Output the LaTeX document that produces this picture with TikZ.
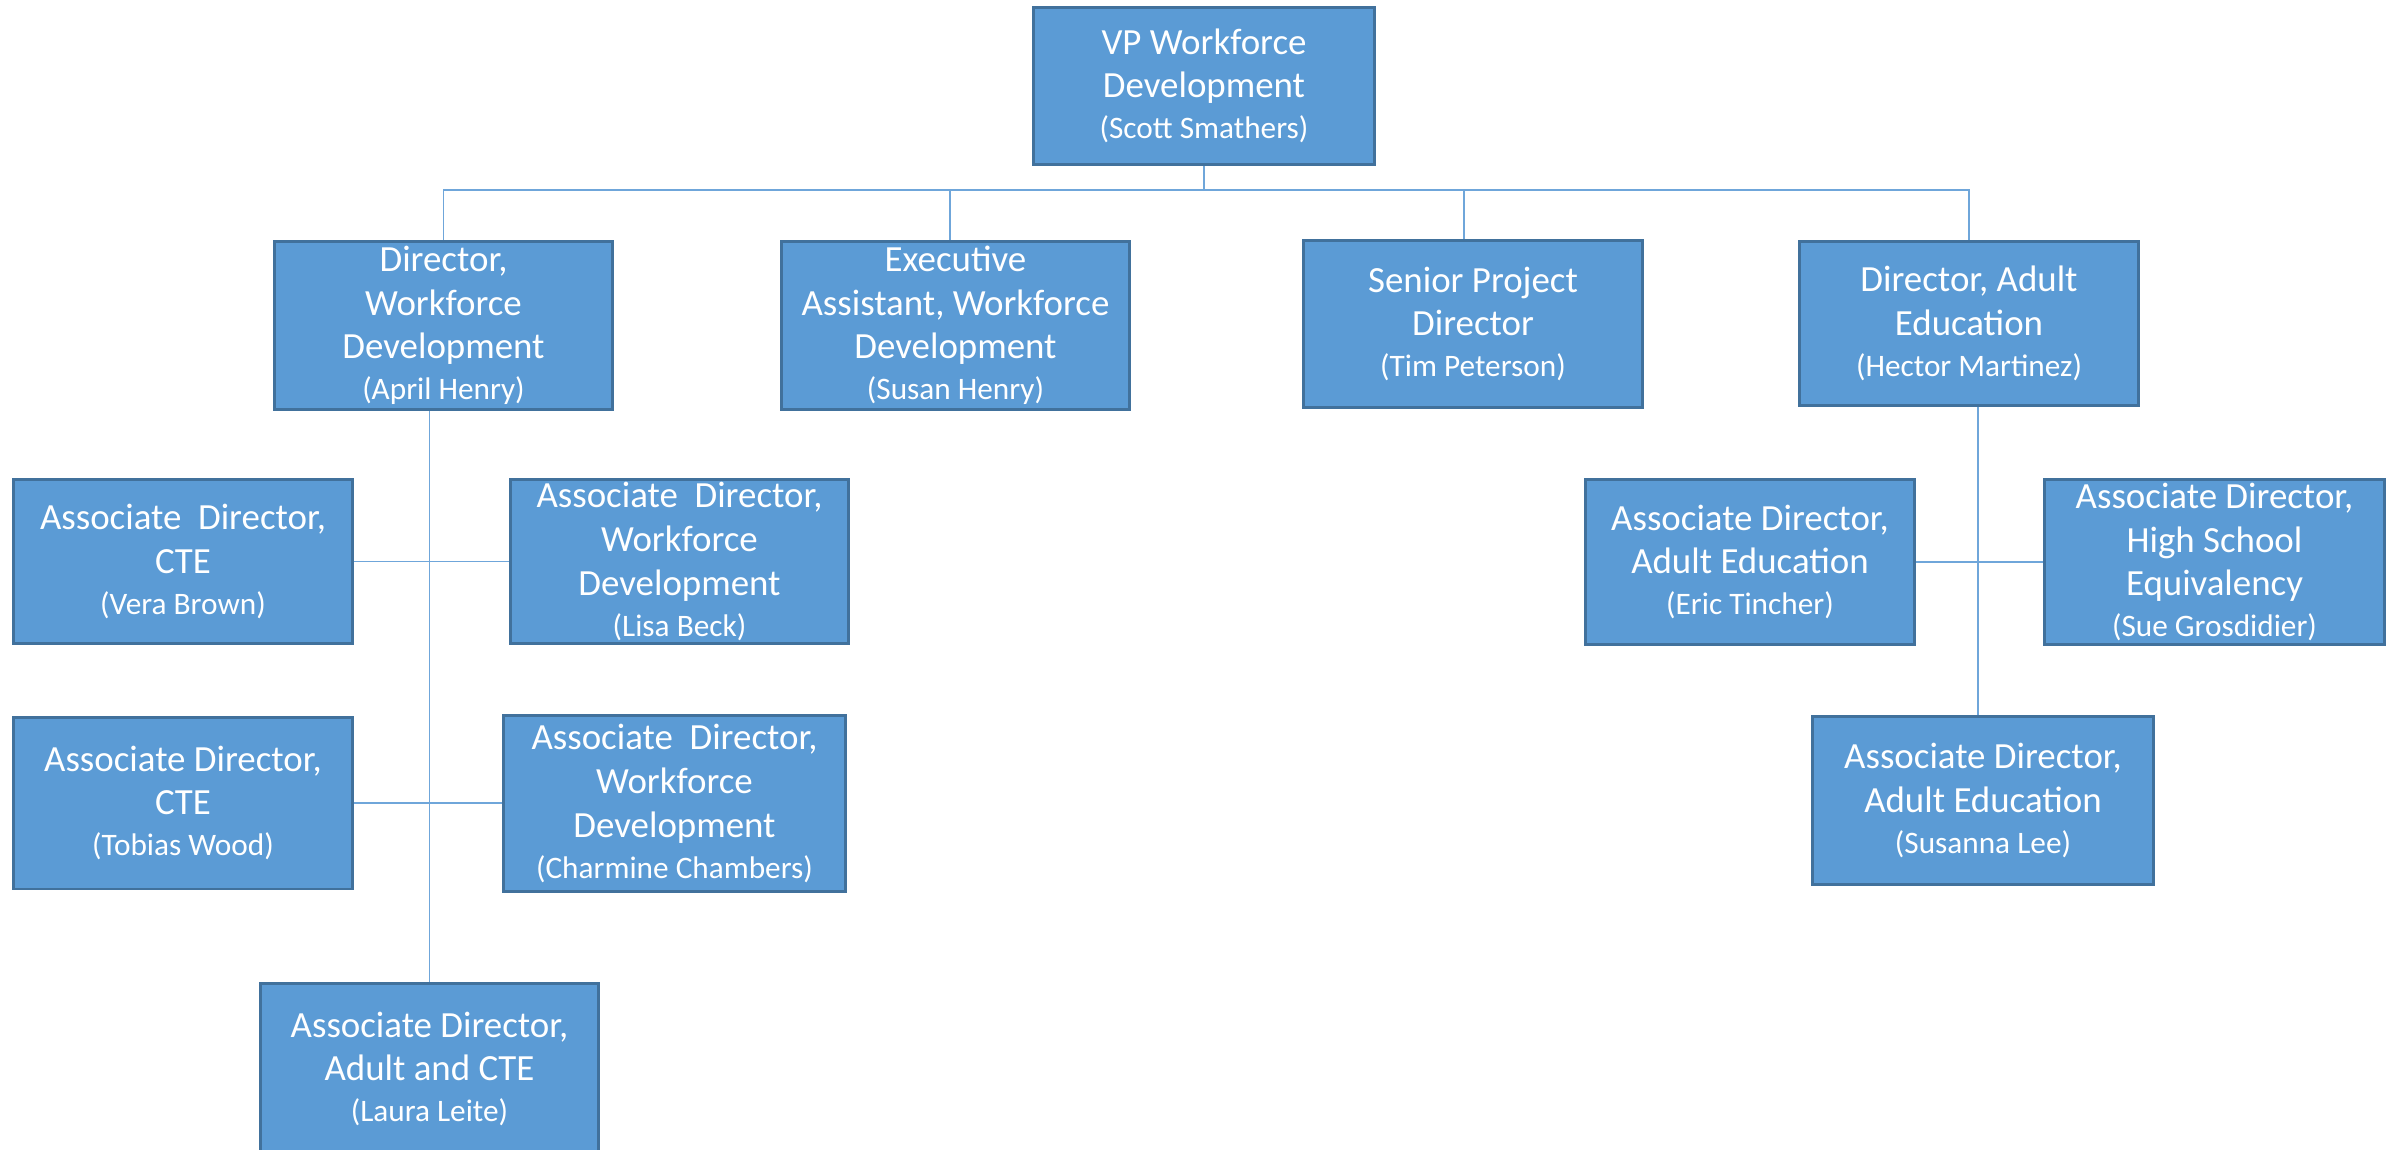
\documentclass[tikz,border=0pt]{standalone}
\usepackage{fontspec}
\setmainfont{Carlito}
\usepackage{tikz}
\definecolor{boxfill}{HTML}{5B9BD5}
\definecolor{boxline}{HTML}{41719C}
\definecolor{linkline}{HTML}{6FA6DA}
\tikzstyle{unit}=[rectangle, draw=boxline, line width=1.7pt, fill=boxfill,
    text=white, align=center, inner sep=0pt,
    font=\fontsize{21}{24.8}\selectfont]
\tikzstyle{link}=[draw=linkline, line width=1.1pt]
\newcommand{\staffname}[1]{{\fontsize{17.8}{21.6}\selectfont(#1)}}

\begin{document}
\begin{tikzpicture}[x=0.02cm,y=-0.02cm]

        \useasboundingbox (0,0) rectangle (2402,1149);

        % top
        \node[unit,
            minimum width=6.82cm,
            minimum height=3.14cm] (vp) at (1204,86)
            {VP Workforce\\Development\\[-1.5pt]\staffname{Scott Smathers}};

        % second row
        \node[unit,
            minimum width=6.76cm,
            minimum height=3.36cm] (dirwd) at (443.5,325.5)
            {Director,\\Workforce\\Development\\[-1.5pt]\staffname{April Henry}};

        \node[unit,
            minimum width=6.96cm,
            minimum height=3.36cm] (exec) at (955.5,325.5)
            {Executive\\Assistant, Workforce\\Development\\[-1.5pt]\staffname{Susan Henry}};

        \node[unit,
            minimum width=6.78cm,
            minimum height=3.34cm] (senior) at (1473,324)
            {Senior Project\\Director\\[-1.5pt]\staffname{Tim Peterson}};

        \node[unit,
            minimum width=6.78cm,
            minimum height=3.28cm] (dirae) at (1969,323.5)
            {Director, Adult\\Education\\[-1.5pt]\staffname{Hector Martinez}};

        % under workforce development
        \node[unit,
            minimum width=6.78cm,
            minimum height=3.28cm] (vera) at (183,561.5)
            {Associate\ \ Director,\\CTE\\[-1.5pt]\staffname{Vera Brown}};

        \node[unit,
            minimum width=6.76cm,
            minimum height=3.28cm] (lisa) at (679.5,561.5)
            {Associate\ \ Director,\\Workforce\\Development\\[-1.5pt]\staffname{Lisa Beck}};

        \node[unit,
            minimum width=6.78cm,
            minimum height=3.44cm] (tobias) at (183,803)
            {Associate Director,\\CTE\\[-1.5pt]\staffname{Tobias Wood}};

        \node[unit,
            minimum width=6.84cm,
            minimum height=3.52cm] (charmine) at (674.5,803.5)
            {Associate\ \ Director,\\Workforce\\Development\\[-1.5pt]\staffname{Charmine Chambers}};

        \node[unit,
            minimum width=6.76cm,
            minimum height=3.44cm] (laura) at (429.5,1069)
            {Associate Director,\\Adult and CTE\\[-1.5pt]\staffname{Laura Leite}};

        % under adult education
        \node[unit,
            minimum width=6.58cm,
            minimum height=3.30cm] (eric) at (1750,562)
            {Associate Director,\\Adult Education\\[-1.5pt]\staffname{Eric Tincher}};

        \node[unit,
            minimum width=6.80cm,
            minimum height=3.30cm] (sue) at (2214.5,562)
            {Associate Director,\\High School\\Equivalency\\[-1.5pt]\staffname{Sue Grosdidier}};

        \node[unit,
            minimum width=6.82cm,
            minimum height=3.36cm] (susanna) at (1983,800.5)
            {Associate Director,\\Adult Education\\[-1.5pt]\staffname{Susanna Lee}};

% Lines
        \coordinate (bus) at (1204,190);

        \draw[link] (vp.south) -- (bus);
        \draw[link] (dirwd.north) |- (bus);
        \draw[link] (dirae.north) |- (bus);
        \draw[link] ([xshift=-0.11cm]exec.north) -- ([xshift=-0.11cm]exec.north |- bus);
        \draw[link] ([xshift=-0.18cm]senior.north) -- ([xshift=-0.18cm]senior.north |- bus);

        \draw[link] (laura.north) -- (laura.north |- dirwd.south);
        \draw[link] (vera.east) -- (lisa.west);
        \draw[link] (tobias.east) -- (tobias.east -| charmine.west);

        \draw[link] ([xshift=-0.1cm]susanna.north) -- ([xshift=-0.1cm]susanna.north |- dirae.south);
        \draw[link] (eric.east) -- (sue.west);

    \end{tikzpicture}
\end{document}
